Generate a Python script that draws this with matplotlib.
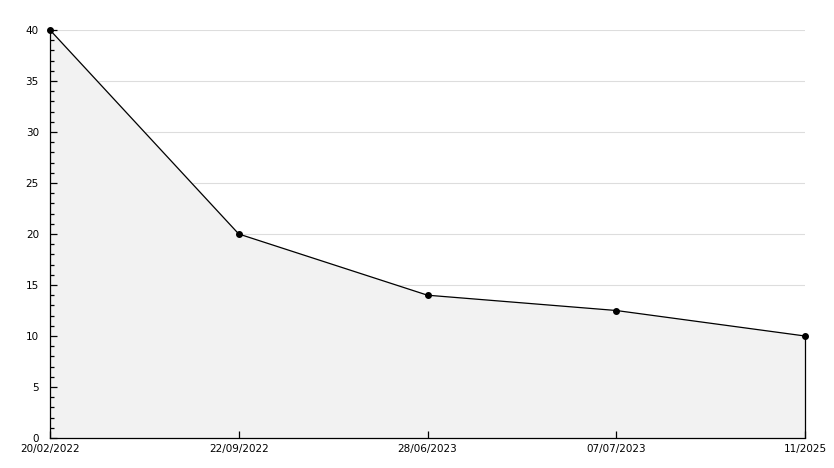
import numpy as np
import matplotlib
matplotlib.use("Agg")
from matplotlib import pyplot as plt
from matplotlib.ticker import MultipleLocator

dates = ["20/02/2022", "22/09/2022", "28/06/2023", "07/07/2023", "11/2025"]
values = [40, 20, 14, 12.5, 10]
grid_levels = [5, 10, 15, 20, 25, 30, 35, 40]

fig = plt.figure(figsize=(8.34, 4.68), dpi=100)
ax = fig.add_axes([50 / 834, 30 / 468, 755 / 834, 408 / 468])

x = np.arange(len(dates))
# horizontal grid lines sit under the filled area
for g in grid_levels:
    ax.axhline(g, color="#dddddd", lw=0.8, zorder=0.5)
ax.fill_between(x, values, 0, color="#f2f2f2", zorder=1)
ax.plot(x, values, color="black", lw=0.9, marker="o", ms=4, zorder=3, clip_on=False)
ax.vlines(x[-1], 0, values[-1], color="black", lw=0.9, zorder=3, clip_on=False)

ax.set_xlim(0, len(dates) - 1)
ax.set_ylim(0, 40)
ax.set_xticks(x)
ax.set_xticklabels(dates)
ax.yaxis.set_major_locator(MultipleLocator(5))
ax.yaxis.set_minor_locator(MultipleLocator(1))

for s in ["top", "right"]:
    ax.spines[s].set_visible(False)
ax.spines["left"].set_linewidth(0.9)
ax.spines["bottom"].set_linewidth(0.9)

ax.tick_params(axis="y", which="major", direction="in", length=5, width=0.9, labelsize=7.5, pad=8)
ax.tick_params(axis="y", which="minor", direction="in", length=3, width=0.9)
ax.tick_params(axis="x", direction="in", length=5, width=0.9, labelsize=7.5, pad=4)

plt.savefig("out.png", dpi=100)
